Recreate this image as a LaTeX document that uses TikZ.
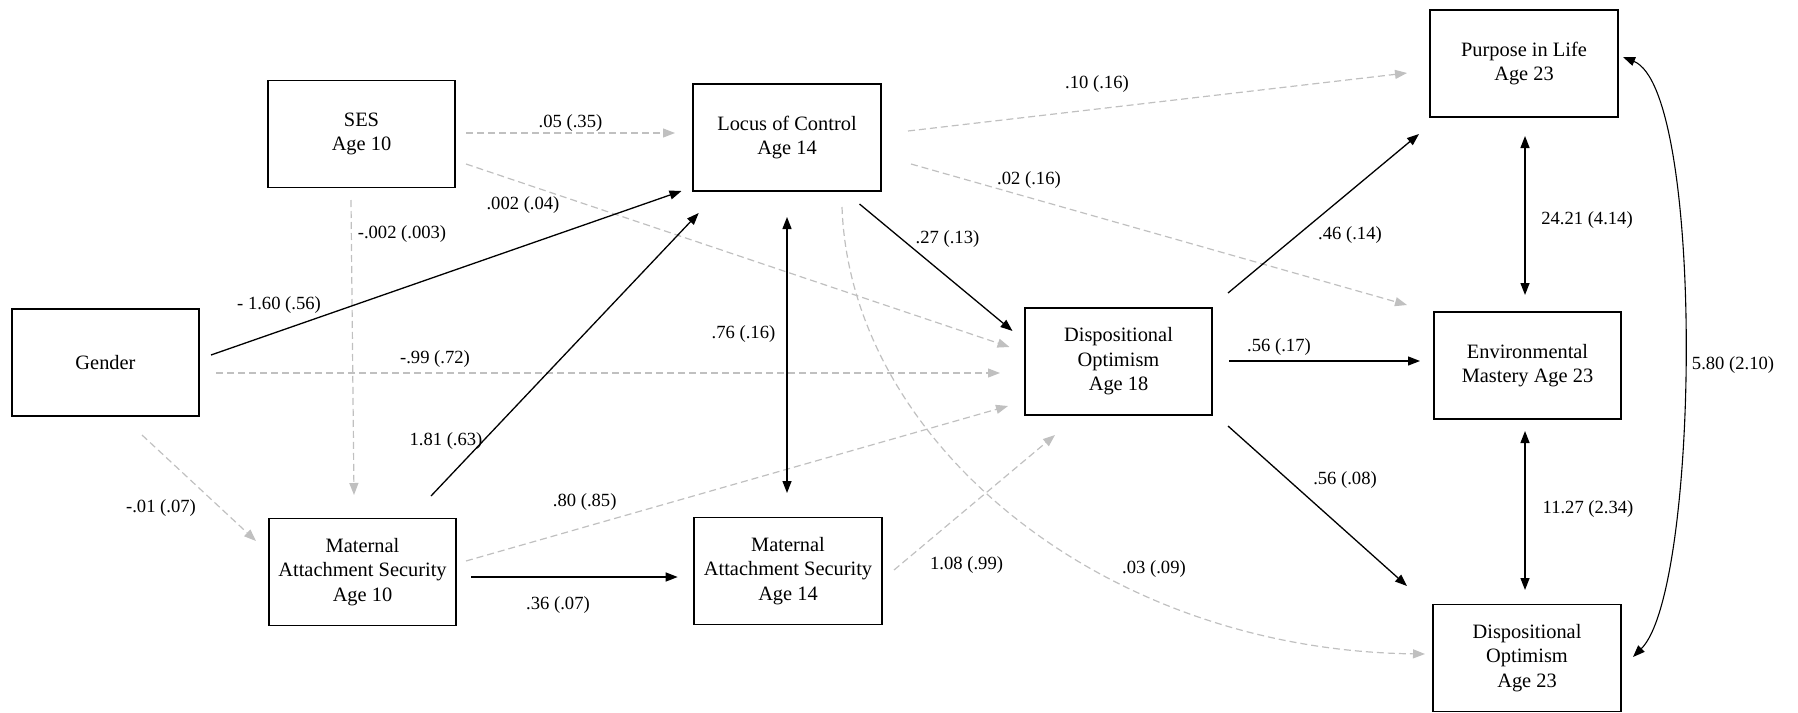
\documentclass[tikz,border=0pt]{standalone}
\usepackage{fontspec}
\setmainfont{Liberation Serif}
\usetikzlibrary{arrows.meta,calc}
\definecolor{lg}{RGB}{192,192,192}
\tikzset{
 box/.style={draw, line width=1.8pt, minimum width=187.5pt, minimum height=107pt, inner sep=0pt, outer sep=0pt, align=center, font=\fontsize{20.4}{24.5}\selectfont},
 lbl/.style={font=\fontsize{18.6}{22}\selectfont, inner sep=0pt},
 tip/.tip={Triangle[length=12pt,width=9pt]},
 sig/.style={line width=1.3pt, -tip},
 bisig/.style={line width=1.3pt, tip-tip},
 ns/.style={draw=lg, line width=1.2pt, dash pattern=on 7pt off 4pt, -tip},
}
\begin{document}
\begin{tikzpicture}[x=1pt,y=-1pt]
\useasboundingbox (0,0) rectangle (1798,712);
% nodes
\node[box] (ses) at (361.5,134) {SES\\Age 10};
\node[box] (gen) at (105.5,362.5) {Gender};
\node[box] (mas10) at (362.5,572) {Maternal\\Attachment Security\\Age 10};
\node[box] (loc) at (787,137.5) {Locus of Control\\Age 14};
\node[box] (mas14) at (788,571) {Maternal\\Attachment Security\\Age 14};
\node[box] (do18) at (1118.5,361.5) {Dispositional\\Optimism\\Age 18};
\node[box] (pil) at (1524,63.5) {Purpose in Life\\Age 23};
\node[box] (em) at (1527.5,365.5) {Environmental\\Mastery Age 23};
\node[box] (do23) at (1527,658) {Dispositional\\Optimism\\Age 23};
% non-significant paths
\draw[ns] ($(ses)+(104.5,-1)$) -- ($(loc)+(-112,-4.5)$);
\draw[ns] ($(ses)+(104.5,30)$) -- ($(do18)+(-109,-14.5)$);
\draw[ns] ($(ses)+(-10.5,66)$) -- ($(mas10)+(-8.5,-77)$);
\draw[ns] ($(gen)+(110.5,10.5)$) -- ($(do18)+(-118.5,11.5)$);
\draw[ns] ($(gen)+(36.5,72.5)$) -- ($(mas10)+(-106.5,-31)$);
\draw[ns] ($(mas10)+(103.5,-11)$) -- ($(do18)+(-110.5,44.5)$);
\draw[ns] ($(loc)+(55,69.5)$) .. controls ($(loc)+(63,302.5)$) and ($(do23)+(-427,-8)$) .. ($(do23)+(-102,-4)$);
\draw[ns] ($(loc)+(121,-6.5)$) -- ($(pil)+(-117,9.5)$);
\draw[ns] ($(loc)+(124,26.5)$) -- ($(em)+(-120.5,-60.5)$);
\draw[ns] ($(mas14)+(106,-1)$) -- ($(do18)+(-63.5,73.5)$);
% significant paths
\draw[sig] ($(gen)+(105.5,-7.5)$) -- ($(loc)+(-105.5,53.5)$);
\draw[sig] ($(mas10)+(68.5,-76)$) -- ($(loc)+(-88.3,75.5)$);
\draw[sig] ($(mas10)+(108.5,5)$) -- ($(mas14)+(-110.3,6)$);
\draw[bisig] ($(loc)+(0,79.5)$) -- ($(mas14)+(-1,-78)$);
\draw[sig] ($(loc)+(72.5,66.5)$) -- ($(do18)+(-106,-30.5)$);
\draw[sig] ($(do18)+(109.5,-68.5)$) -- ($(pil)+(-105,70.5)$);
\draw[sig] ($(do18)+(110.5,-0.5)$) -- ($(em)+(-107.5,-4.5)$);
\draw[sig] ($(do18)+(109.5,64.5)$) -- ($(do23)+(-120,-72)$);
\draw[bisig] ($(pil)+(1,72.5)$) -- ($(em)+(-2.5,-70.5)$);
\draw[bisig] ($(em)+(-2.5,65.5)$) -- ($(do23)+(-2,-68)$);
\draw[bisig, line width=1.1pt] ($(pil)+(99,-6.5)$) .. controls ($(pil)+(181,26.5)$) and ($(do23)+(173,-68)$) .. ($(do23)+(106,-1)$);
% labels
\node[lbl] (l1) at (570.5,123) {.05 (.35)};
\node[lbl] (l2) at (523,205) {.002 (.04)};
\node[lbl] (l3) at (402,234) {-.002 (.003)};
\node[lbl] (l4) at (279,305) {- 1.60 (.56)};
\node[lbl] (l5) at (435,359) {-.99 (.72)};
\node[lbl] (l6) at (161,508) {-.01 (.07)};
\node[lbl] (l7) at (446,441) {1.81 (.63)};
\node[lbl] (l8) at (558,605) {.36 (.07)};
\node[lbl] (l9) at (584.7,502) {.80 (.85)};
\node[lbl] (l10) at (743.5,334) {.76 (.16)};
\node[lbl] (l11) at (947.5,239) {.27 (.13)};
\node[lbl] (l12) at (1154,569) {.03 (.09)};
\node[lbl] (l13) at (1097,84) {.10 (.16)};
\node[lbl] (l14) at (1029,180) {.02 (.16)};
\node[lbl] (l15) at (966.6,565) {1.08 (.99)};
\node[lbl] (l16) at (1350,235) {.46 (.14)};
\node[lbl] (l17) at (1279,347) {.56 (.17)};
\node[lbl] (l18) at (1345,480) {.56 (.08)};
\node[lbl] (l19) at (1587,220) {24.21 (4.14)};
\node[lbl] (l20) at (1588,509) {11.27 (2.34)};
\node[lbl] (l21) at (1733,365) {5.80 (2.10)};
\end{tikzpicture}
\end{document}
